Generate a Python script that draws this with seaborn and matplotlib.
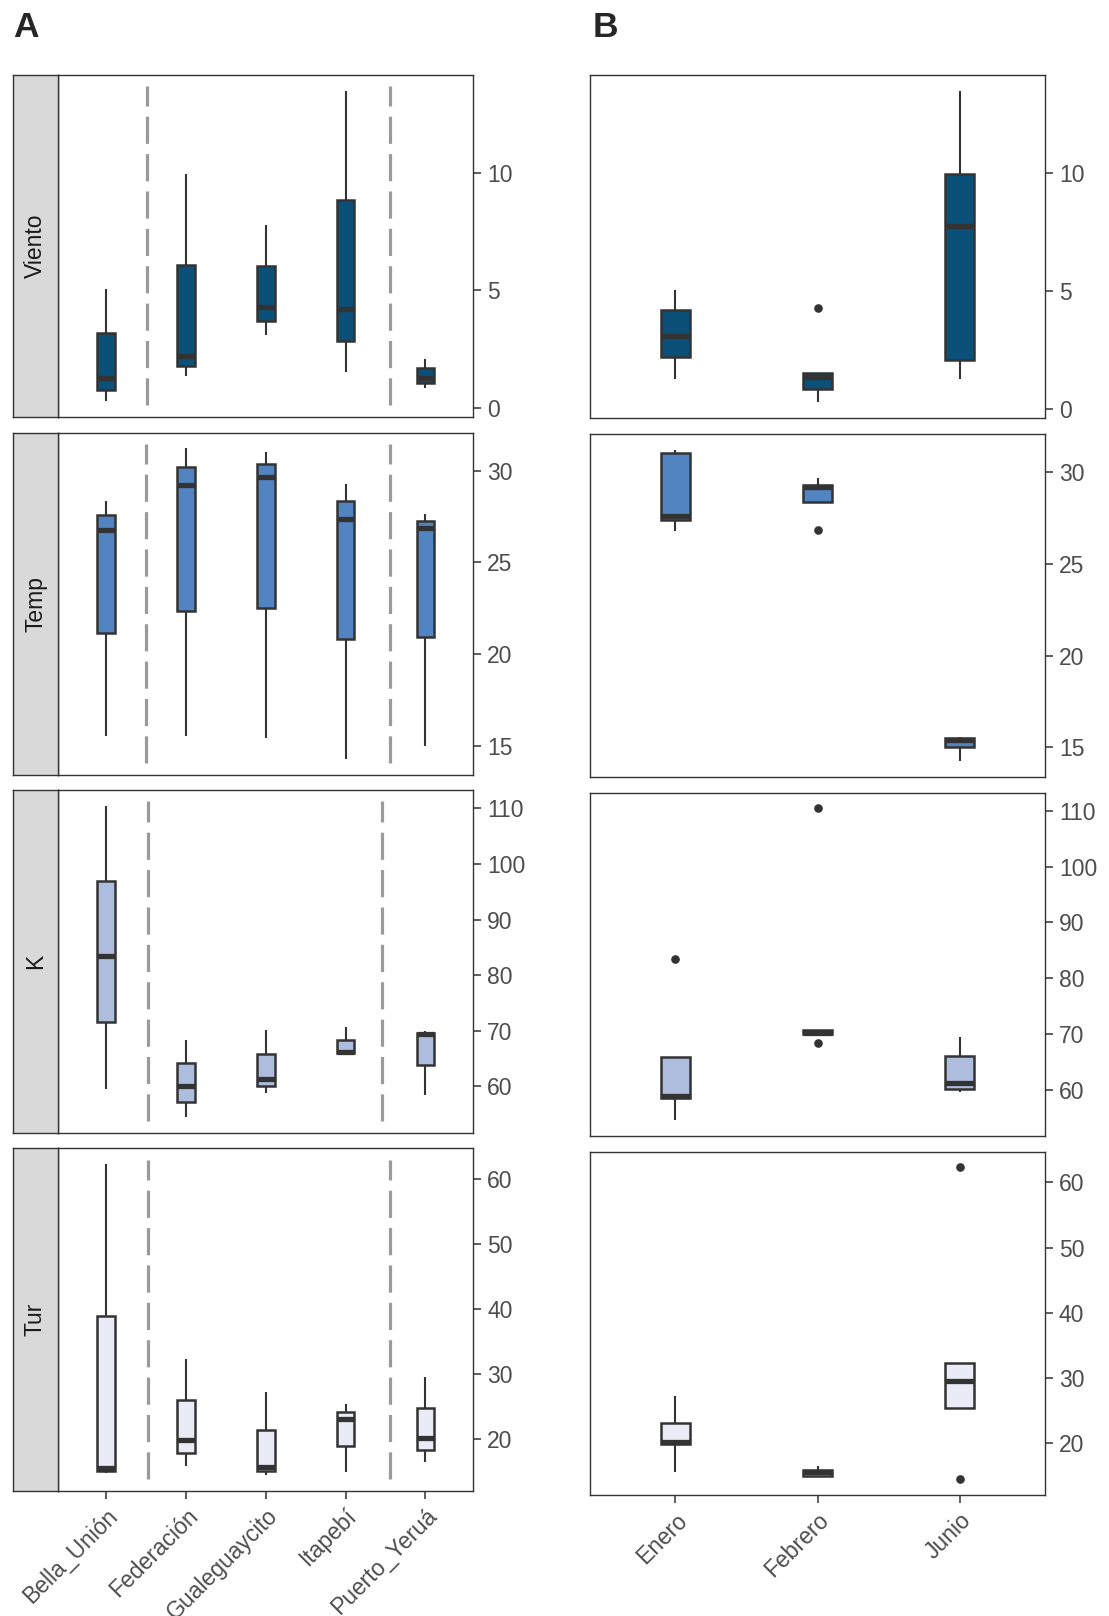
import matplotlib
matplotlib.use("Agg")
import matplotlib.pyplot as plt
import pandas as pd
import seaborn as sns

sites = ["Bella_Unión", "Federación", "Gualeguaycito", "Itapebí", "Puerto_Yeruá"]
months = ["Enero", "Febrero", "Junio"]
variables = ["Viento", "Temp", "K", "Tur"]

# one value per site, in month order (Enero, Febrero, Junio)
viento = [[5.05, 0.28, 1.27], [2.22, 1.37, 9.96], [3.11, 4.29, 7.77],
          [4.19, 1.51, 13.5], [1.27, 0.85, 2.08]]
temp = [[26.76, 28.36, 15.53], [31.22, 29.2, 15.54], [31.04, 29.67, 15.4],
        [27.38, 29.27, 14.25], [27.62, 26.86, 15.0]]
k = [[83.47, 110.5, 59.58], [54.46, 68.4, 60.06], [58.86, 70.2, 61.26],
     [65.9, 70.7, 66.1], [58.4, 69.9, 69.4]]
tur = [[15.6, 14.8, 62.3], [19.9, 15.9, 32.3], [27.3, 15.7, 14.5],
       [23.1, 15.0, 25.4], [20.25, 16.55, 29.5]]

fills = ["#0b5079", "#5384c2", "#aebcdd", "#e9ecf6"]
yticks = [[0, 5, 10], [15, 20, 25, 30], [60, 70, 80, 90, 100, 110], [20, 30, 40, 50, 60]]
# dashed separators in panel A (x in category units)
separators = [(0.51, 3.55), (0.50, 3.55), (0.53, 3.46), (0.53, 3.55)]

rows = []
for var, arr in zip(variables, [viento, temp, k, tur]):
    for site, vals in zip(sites, arr):
        for month, val in zip(months, vals):
            rows.append({"variable": var, "sitio": site, "mes": month, "valor": val})
df = pd.DataFrame(rows)

sns.set_theme(style="ticks")
plt.rcParams["font.family"] = ["Liberation Sans", "DejaVu Sans"]

W, H = 1109, 1616
fig = plt.figure(figsize=(W / 100, H / 100), dpi=100)


def px_axes(left, top, right, bottom):
    return fig.add_axes([left / W, 1 - bottom / H, (right - left) / W, (bottom - top) / H])


rows_a = [(75, 416.7), (432.7, 775), (790, 1132.7), (1148.3, 1490.7)]
rows_b = [(75, 418), (434, 776.7), (792.7, 1136), (1151.7, 1495)]

box_kws = dict(
    saturation=1,
    linecolor="#333333",
    linewidth=1.8,
    showcaps=False,
    fliersize=5.2,
    medianprops=dict(linewidth=3.8, solid_capstyle="butt", color="#333333"),
    whiskerprops=dict(linewidth=1.5, color="#333333"),
    flierprops=dict(marker="o", markerfacecolor="#333333", markeredgecolor="#333333"),
)
text_size = 16.5


def style_axis(ax, ticks, last):
    ax.set_xlabel("")
    ax.set_ylabel("")
    ax.yaxis.tick_right()
    ax.set_yticks(ticks)
    ax.tick_params(axis="y", left=False, right=True, length=6, width=1.1, color="#333333",
                   labelsize=text_size, labelcolor="#4d4d4d", pad=4)
    if last:
        ax.tick_params(axis="x", length=6, width=1.1, color="#333333", labelsize=text_size,
                       labelcolor="#4d4d4d", pad=4)
        for lab in ax.get_xticklabels():
            lab.set_rotation(45)
            lab.set_ha("right")
            lab.set_va("top")
            lab.set_rotation_mode("anchor")
    else:
        ax.tick_params(axis="x", bottom=False, labelbottom=False)
    for sp in ax.spines.values():
        sp.set_visible(True)
        sp.set_color("#333333")
        sp.set_linewidth(1.0)


for i, var in enumerate(variables):
    sub = df[df["variable"] == var]
    lo, hi = sub["valor"].min(), sub["valor"].max()
    pad = 0.05 * (hi - lo)
    last = i == len(variables) - 1

    # panel A: by site
    top, bottom = rows_a[i]
    axa = px_axes(58.3, top, 473.3, bottom)
    for x in separators[i]:
        axa.axvline(x, ymin=0.035, ymax=0.967, color="#9a9a9a", lw=2.3,
                    ls=(0, (8.5, 3.2)), zorder=0)
    sns.boxplot(data=sub, x="sitio", y="valor", order=sites, ax=axa, width=0.22,
                color=fills[i], **box_kws)
    axa.set_xlim(-0.6, 4.6)
    axa.set_ylim(lo - pad, hi + pad)
    style_axis(axa, yticks[i], last)

    strip = px_axes(12.7, top, 58.3, bottom)
    strip.set_facecolor("#d9d9d9")
    strip.set_xticks([])
    strip.set_yticks([])
    for sp in strip.spines.values():
        sp.set_color("#333333")
        sp.set_linewidth(1.0)
    strip.text(0.5, 0.5, var, rotation=90, ha="center", va="center",
               fontsize=text_size, color="#1a1a1a", transform=strip.transAxes)

    # panel B: by month
    top, bottom = rows_b[i]
    axb = px_axes(590, top, 1045, bottom)
    sns.boxplot(data=sub, x="mes", y="valor", order=months, ax=axb, width=0.2,
                color=fills[i], **box_kws)
    axb.set_xlim(-0.6, 2.6)
    axb.set_ylim(lo - pad, hi + pad)
    style_axis(axb, yticks[i], last)

fig.text(13.3 / W, 1 - 37.3 / H, "A", fontsize=25.5, fontweight="bold", ha="left", va="baseline")
fig.text(592.7 / W, 1 - 37.3 / H, "B", fontsize=25.5, fontweight="bold", ha="left", va="baseline")

fig.savefig("out.png", dpi=100)
